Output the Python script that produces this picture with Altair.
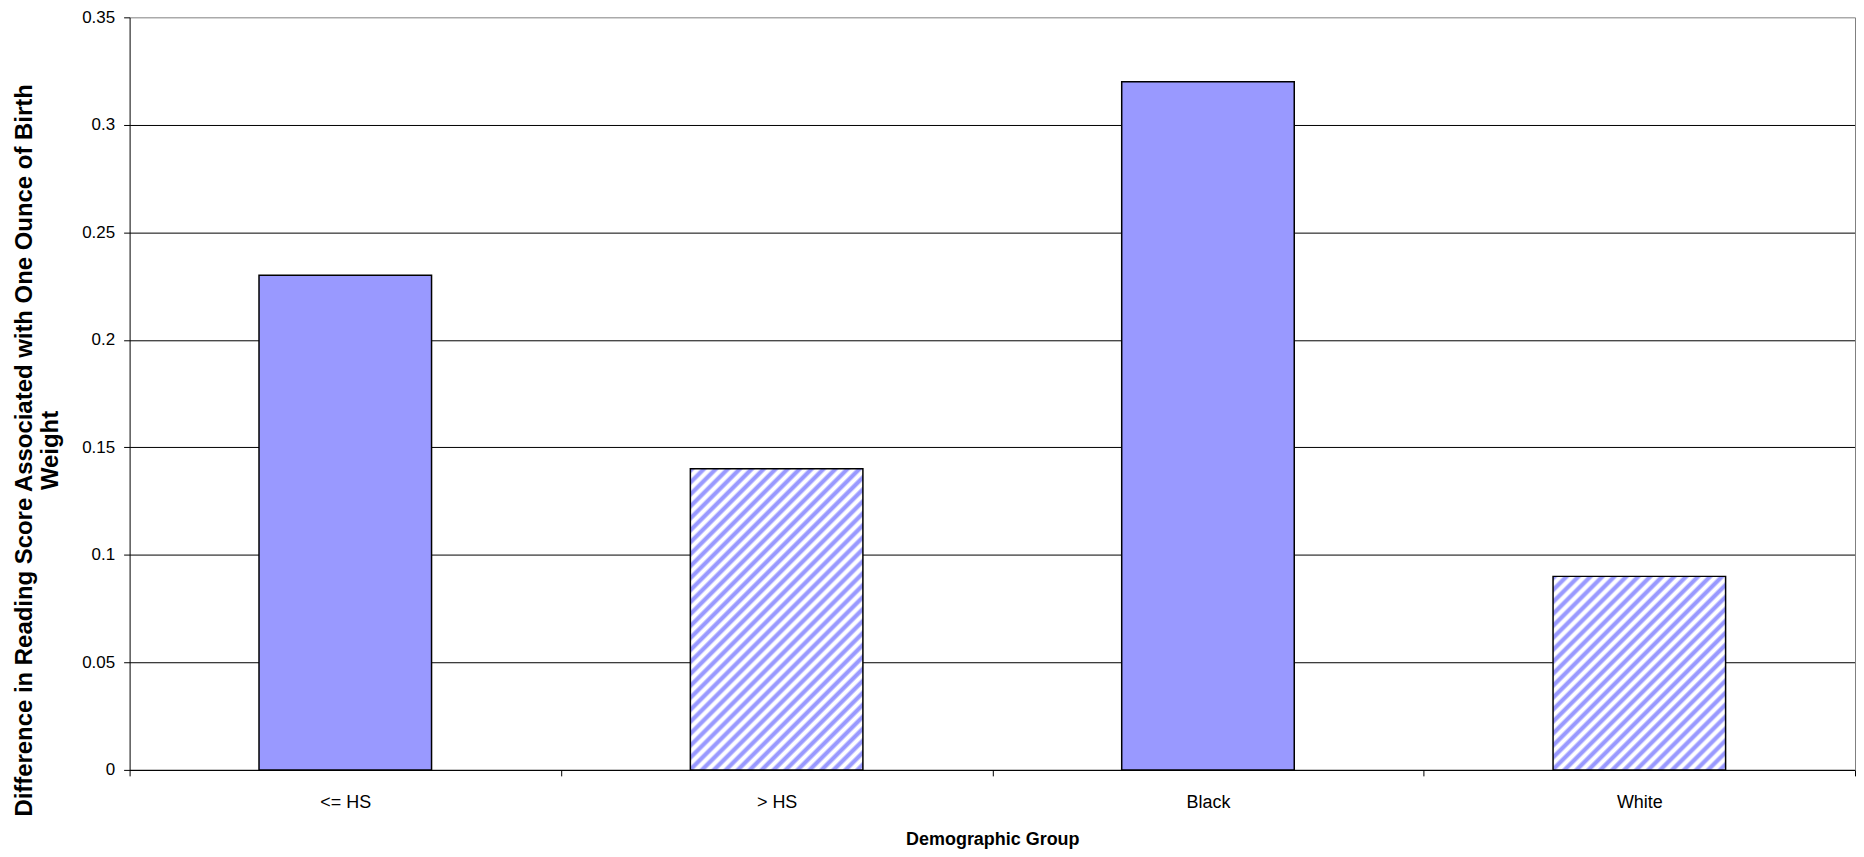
import altair as alt
import pandas as pd

# ---- data ----
categories = ["<= HS", "> HS", "Black", "White"]
values = [0.23, 0.14, 0.32, 0.09]
hatched = [False, True, False, True]
y_ticks = [0, 0.05, 0.1, 0.15, 0.2, 0.25, 0.3, 0.35]
y_title = ["Difference in Reading Score Associated with One Ounce of Birth", "Weight"]
x_title = "Demographic Group"

# ---- style ----
W, H = 1731, 755
YMAX = 0.35
BAR_BAND = 0.4
BLUE = "#9999FF"
PERIOD = 12.0  # horizontal period of the hatch, px
FONT = "Liberation Sans"

df = pd.DataFrame({"group": categories, "value": values, "hatched": hatched})

bandwidth = W / len(categories) * BAR_BAND


def hatch_gradient(value):
    w = bandwidth
    h = value / YMAX * H
    r = h / w
    s = (1 + r) / (1 + r * r)
    n = (w + h) / PERIOD
    pattern = [(0.0, BLUE), (0.28, BLUE), (0.5, "#ffffff"), (0.78, "#ffffff"), (1.0, BLUE)]
    stops = []
    k = 0
    while k < n + 1:
        for f, c in pattern:
            off = (k + f) / n
            if off <= 1.0:
                stops.append({"offset": round(off, 5), "color": c})
        k += 1
    return {"gradient": "linear", "x1": 0, "y1": 0, "x2": s, "y2": s * r, "stops": stops}


xscale = alt.Scale(domain=categories, paddingInner=0, paddingOuter=0)
yscale = alt.Scale(domain=[0, YMAX], nice=False, zero=True)

x_enc = alt.X(
    "group:N",
    sort=categories,
    scale=xscale,
    axis=alt.Axis(
        title=x_title,
        labelAngle=0,
        tickBand="extent",
        tickSize=6,
        tickColor="black",
        domainColor="black",
        labelPadding=18,
        labelFont=FONT,
        labelFontSize=18,
        labelColor="black",
        titleFont=FONT,
        titleFontSize=18,
        titleFontWeight="bold",
        titleColor="black",
        titleY=75,
        titleBaseline="alphabetic",
        grid=False,
    ),
)

y_axis = alt.Axis(
    values=y_ticks,
    format="~g",
    tickSize=6,
    tickColor="black",
    domainColor="black",
    labelPadding=9,
    labelFont=FONT,
    labelFontSize=17,
    labelColor="black",
    grid=True,
    gridColor={"condition": {"test": "datum.value >= 0.34", "value": "#808080"}, "value": "black"},
    gridWidth=1,
    gridOpacity=1,
    title=y_title,
    titleFont=FONT,
    titleFontSize=24,
    titleFontWeight="bold",
    titleColor="black",
    titleAngle=-90,
    titleAlign="center",
    titleBaseline="alphabetic",
    titleLineHeight=26,
    titleX=-98,
    titleY=434,
)

base = alt.Chart(df)
bar_style = dict(stroke="black", strokeWidth=1.5, width={"band": BAR_BAND})

solid = base.transform_filter("!datum.hatched").mark_bar(fill=BLUE, **bar_style).encode(
    x=x_enc, y=alt.Y("value:Q", scale=yscale, axis=y_axis)
)

layers = [solid]
for cat, val, hat in zip(categories, values, hatched):
    if not hat:
        continue
    layers.append(
        base.transform_filter(alt.datum.group == cat)
        .mark_bar(fill=hatch_gradient(val), **bar_style)
        .encode(
            x=x_enc,
            y=alt.Y("value:Q", scale=yscale, axis=None),
        )
    )

# right-hand frame line (gray), as a secondary axis showing only its domain
frame = base.mark_bar(opacity=0).encode(
    x=x_enc,
    y=alt.Y(
        "value:Q",
        scale=yscale,
        axis=alt.Axis(
            orient="right", domain=True, domainColor="#808080", labels=False,
            ticks=False, grid=False, title=None,
        ),
    ),
)
layers.append(frame)

chart = (
    alt.layer(*layers)
    .resolve_axis(y="independent")
    .properties(
        width=W,
        height=H,
        autosize=alt.AutoSizeParams(type="none"),
        padding={"left": 122, "top": 8, "right": 1, "bottom": 78},
        background="white",
    )
    .configure_view(stroke=None)
)

chart.save("out.html", embed_options={"renderer": "svg", "actions": False})
